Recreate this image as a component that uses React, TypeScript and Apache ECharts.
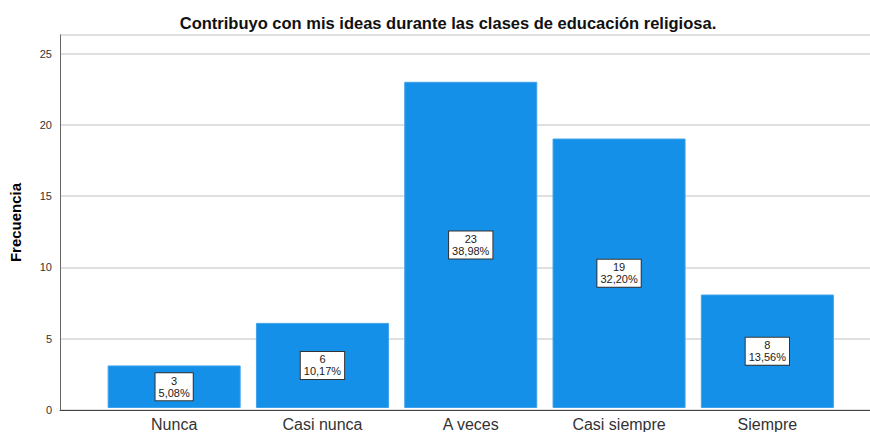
import React, { useEffect, useRef } from "react";
import * as echarts from "echarts";

const categories = ["Nunca", "Casi nunca", "A veces", "Casi siempre", "Siempre"];
const frequencies = [3, 6, 23, 19, 8];
const percentages = ["5,08%", "10,17%", "38,98%", "32,20%", "13,56%"];
const yTicks = [0, 5, 10, 15, 20, 25];

const Y_MAX = 26.3;

export default function App() {
  const ref = useRef<HTMLDivElement>(null);
  useEffect(() => {
    if (!ref.current) return;
    const chart = echarts.init(ref.current, undefined, { renderer: "svg" });
    chart.setOption({
      animation: false,
      backgroundColor: "#ffffff",
      title: {
        text: "Contribuyo con mis ideas durante las clases de educación religiosa.",
        left: 443,
        textAlign: "center",
        top: 9,
        textStyle: {
          fontFamily: "Liberation Sans, Arial, sans-serif",
          fontSize: 16.5,
          fontWeight: "bold",
          color: "#111",
        },
      },
      grid: [
        { left: 60, right: 0, top: 35, bottom: 22 },
        { left: 100, right: 28.5, top: 35, bottom: 22 },
      ],
      xAxis: [
        {
          gridIndex: 0,
          type: "value",
          min: 0,
          max: 1,
          axisLine: { show: true, onZero: false, lineStyle: { color: "#444", width: 1 } },
          axisTick: { show: false },
          axisLabel: { show: false },
          splitLine: { show: false },
        },
        {
          gridIndex: 1,
          type: "category",
          data: categories,
          axisLine: { show: false },
          axisTick: { show: false },
          axisLabel: {
            fontFamily: "Liberation Sans, Arial, sans-serif",
            fontSize: 16,
            color: "#333",
            margin: 8,
            interval: 0,
          },
        },
      ],
      yAxis: [
        {
          gridIndex: 0,
          type: "value",
          min: 0,
          max: Y_MAX,
          interval: 5,
          name: "Frecuencia",
          nameLocation: "middle",
          nameGap: 37,
          nameTextStyle: {
            fontFamily: "Liberation Sans Narrow, Arial Narrow, Liberation Sans, sans-serif",
            fontSize: 15,
            fontWeight: "bold",
            color: "#000",
          },
          axisLine: { show: true, lineStyle: { color: "#666", width: 1 } },
          axisTick: { show: false },
          axisLabel: {
            fontFamily: "Liberation Sans, Arial, sans-serif",
            fontSize: 11,
            color: "#333",
            margin: 8,
            formatter: (v: number) => (yTicks.includes(v) ? String(v) : ""),
          },
          splitLine: { show: true, lineStyle: { color: "#d6d6d6", width: 1.5 } },
        },
        {
          gridIndex: 1,
          type: "value",
          min: 0,
          max: Y_MAX,
          interval: 5,
          show: false,
          splitLine: { show: false },
        },
      ],
      series: [
        {
          type: "bar",
          xAxisIndex: 1,
          yAxisIndex: 1,
          data: frequencies,
          barWidth: 133,
          itemStyle: { color: "#1490e8", borderColor: "#3fa2ec", borderWidth: 1 },
          label: {
            show: true,
            position: "inside",
            formatter: (p: any) => `${frequencies[p.dataIndex]}\n${percentages[p.dataIndex]}`,
            fontFamily: "Liberation Sans, Arial, sans-serif",
            fontSize: 11,
            lineHeight: 12,
            color: "#222",
            backgroundColor: "#ffffff",
            borderColor: "#333",
            borderWidth: 1,
            padding: [2, 3, 1, 3],
            align: "center",
          },
        },
      ],
    });
    return () => chart.dispose();
  }, []);
  return <div ref={ref} style={{ width: 870, height: 432, position: "absolute", left: 0, top: 0 }} />;
}
